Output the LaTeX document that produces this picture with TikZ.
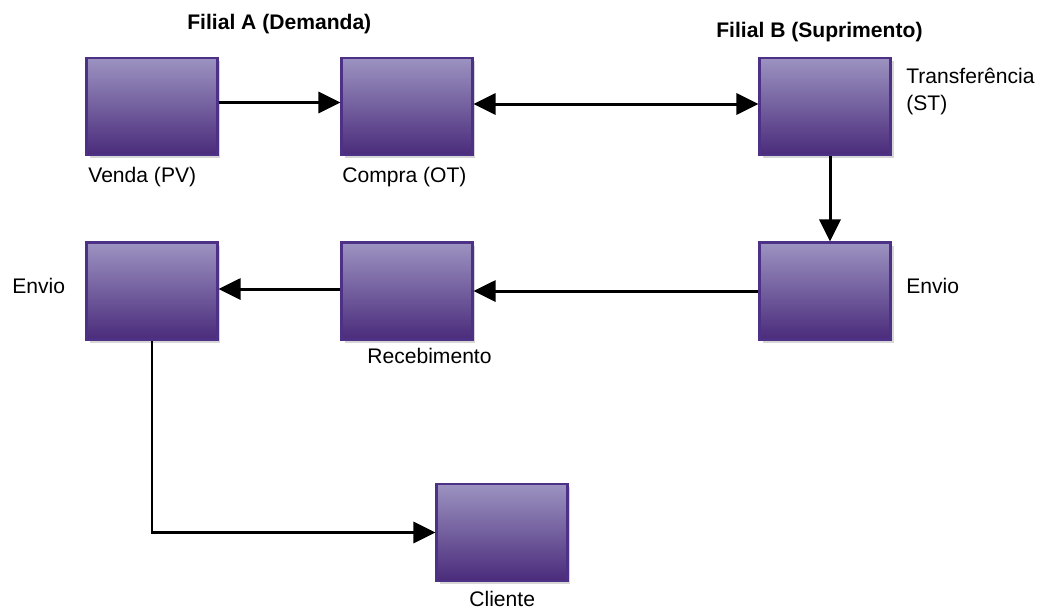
\documentclass[tikz,border=0pt]{standalone}
\usepackage{fontspec}
\setmainfont{Liberation Sans}
\usepackage{tikz}
\usetikzlibrary{arrows.meta,positioning,shadows}
\definecolor{boxtop}{HTML}{9C93C1}
\definecolor{boxbot}{HTML}{4A2B7B}
\definecolor{boxline}{HTML}{4D3186}
\definecolor{boxshade}{HTML}{D6D6D6}
\tikzset{
  proc/.style={rectangle, draw=boxline, line width=1.2pt, top color=boxtop, bottom color=boxbot,
    minimum width=2.62cm, minimum height=1.94cm, inner sep=0pt,
    drop shadow={shadow xshift=0.06cm, shadow yshift=-0.06cm, fill=boxshade, opacity=1}},
  lbl/.style={anchor=base west, inner sep=0pt, font=\fontsize{12}{14}\selectfont},
  ttl/.style={lbl, font=\fontsize{12}{14}\selectfont\bfseries},
  flow/.style={line width=1.7pt, -{Triangle[length=0.44cm,width=0.42cm]}},
}
\begin{document}
\begin{tikzpicture}[x=0.02cm,y=-0.02cm]
\useasboundingbox (0,0) rectangle (1043,610);
% titles
\node[ttl] (filiala) at (187,29) {Filial A (Demanda)};
\node[ttl] (filialb) at (716,37) {Filial B (Suprimento)};
% boxes
\node[proc] (venda) at (152,106.5) {};
\node[proc] (compra) at (407,106.5) {};
\node[proc] (transf) at (825,106.5) {};
\node[proc] (envioa) at (152,291) {};
\node[proc] (receb) at (407,291) {};
\node[proc] (enviob) at (825,291) {};
\node[proc] (cliente) at (502,532.5) {};
% labels
\node[lbl] (lvenda) at (88,182) {Venda (PV)};
\node[lbl] (lcompra) at (342,182) {Compra (OT)};
\node[lbl, align=left] (ltransf) at (906,110) {Transferência\\[1pt](ST)};
\node[lbl] (lenvioa) at (12,293) {Envio};
\node[lbl] (lenviob) at (906,293) {Envio};
\node[lbl] (lreceb) at (367,363) {Recebimento};
\node[lbl] (lcliente) at (469,606) {Cliente};
% connectors
\draw[flow] ([yshift=0.08cm]venda.east) -- ([yshift=0.08cm]compra.west);
\draw[flow, {Triangle[length=0.44cm,width=0.42cm]}-{Triangle[length=0.44cm,width=0.42cm]}] ([yshift=0.05cm]compra.east) -- ([yshift=0.05cm]transf.west);
\draw[flow] ([xshift=0.1cm]transf.south) -- ([xshift=0.1cm]enviob.north);
\draw[flow] (enviob.west) -- (receb.east);
\draw[flow] ([yshift=0.04cm]receb.west) -- ([yshift=0.04cm]envioa.east);
\draw[flow] (envioa.south) |- (cliente.west);
\end{tikzpicture}
\end{document}
